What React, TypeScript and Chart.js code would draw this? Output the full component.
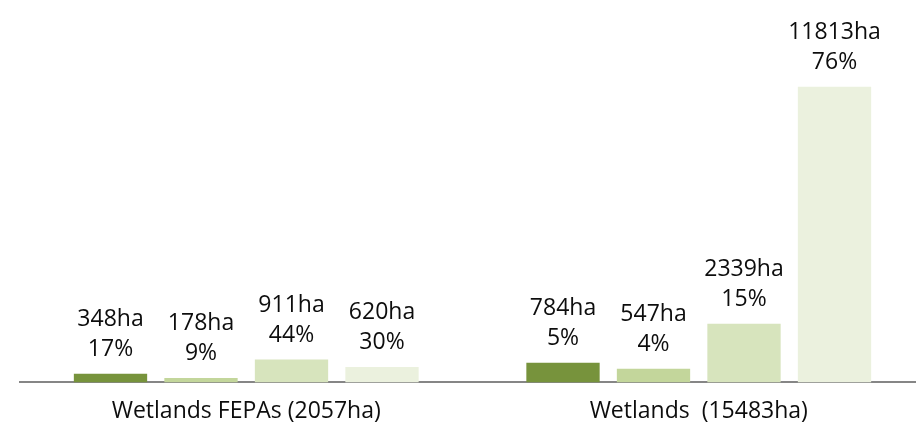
import React, { useEffect, useRef } from "react";
import { Chart, registerables } from "chart.js";

Chart.register(...registerables);

const categories = ["Wetlands FEPAs (2057ha)", "Wetlands  (15483ha)"];
const seriesNames = ["Class A", "Class B", "Class C", "Class D"];
const seriesA = [348, 784];
const seriesB = [178, 547];
const seriesC = [911, 2339];
const seriesD = [620, 11813];
const pctA = [17, 5];
const pctB = [9, 4];
const pctC = [44, 15];
const pctD = [30, 76];
const colors = ["#77933C", "#C3D69B", "#D7E4BD", "#EBF1DE"];

const FONT = "'Open Sans', 'DejaVu Sans', sans-serif";

export default function App() {
  const ref = useRef<HTMLCanvasElement | null>(null);

  useEffect(() => {
    if (!ref.current) return;
    const values = [seriesA, seriesB, seriesC, seriesD];
    const pcts = [pctA, pctB, pctC, pctD];

    const labelPlugin = {
      id: "barLabels",
      afterDatasetsDraw(chart: any) {
        const ctx = chart.ctx;
        ctx.save();
        ctx.font = `23px ${FONT}`;
        ctx.fillStyle = "#0d0d0d";
        ctx.textAlign = "center";
        ctx.textBaseline = "alphabetic";
        chart.data.datasets.forEach((ds: any, di: number) => {
          const meta = chart.getDatasetMeta(di);
          meta.data.forEach((bar: any, i: number) => {
            const v = values[di][i];
            const p = pcts[di][i];
            const y2 = bar.y - 18;
            ctx.fillText(`${p}%`, bar.x, y2);
            ctx.fillText(`${v}ha`, bar.x, y2 - 30);
          });
        });
        ctx.restore();
      },
    };

    const chart = new Chart(ref.current, {
      type: "bar",
      data: {
        labels: categories,
        datasets: values.map((vals, i) => ({
          label: seriesNames[i],
          data: vals,
          backgroundColor: colors[i],
          borderWidth: 0,
          categoryPercentage: 0.8,
          barPercentage: 0.81,
        })),
      },
      options: {
        responsive: false,
        animation: false,
        layout: { padding: { top: 32, left: 20, right: 15, bottom: 6 } },
        plugins: {
          legend: { display: false },
          tooltip: { enabled: false },
          title: { display: false },
        },
        scales: {
          x: {
            grid: { display: false, drawTicks: false },
            border: { display: true, color: "#868686", width: 2 },
            ticks: {
              color: "#0d0d0d",
              font: { family: FONT, size: 23 },
              padding: 15,
              maxRotation: 0,
              autoSkip: false,
            },
          },
          y: {
            display: false,
            min: 0,
            max: 14000,
          },
        },
      },
      plugins: [labelPlugin],
    });
    return () => chart.destroy();
  }, []);

  return (
    <div
      style={{
        position: "fixed",
        left: 0,
        top: 0,
        width: 916,
        height: 431,
        overflow: "hidden",
        background: "#ffffff",
      }}
    >
      <canvas ref={ref} width={940} height={446} style={{ display: "block" }} />
    </div>
  );
}
